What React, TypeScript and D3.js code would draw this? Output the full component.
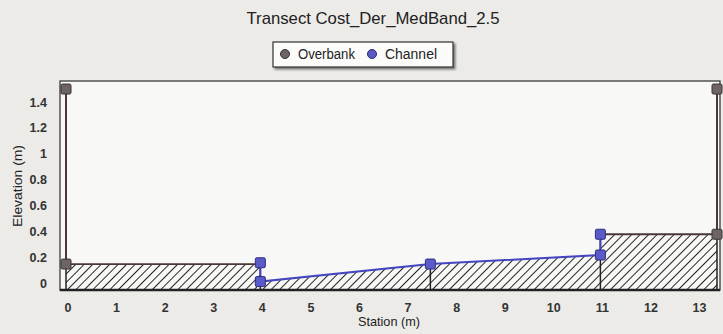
import React from "react";
import * as d3 from "d3";

const title = "Transect Cost_Der_MedBand_2.5";
const xTicks = [0, 1, 2, 3, 4, 5, 6, 7, 8, 9, 10, 11, 12, 13];
const yTicks = [0, 0.2, 0.4, 0.6, 0.8, 1, 1.2, 1.4];
const overbankLeftX = [0, 0, 4];
const overbankLeftY = [1.5, 0.15, 0.15];
const overbankRightX = [11, 13.4, 13.4];
const overbankRightY = [0.38, 0.38, 1.5];
const overbankMarkX = [0, 0, 13.4, 13.4];
const overbankMarkY = [1.5, 0.15, 0.38, 1.5];
const channelX = [4, 4, 7.5, 11, 11];
const channelY = [0.16, 0.015, 0.15, 0.22, 0.38];
const groundX = [0, 4, 4, 7.5, 11, 11, 13.4];
const groundY = [0.15, 0.15, 0.015, 0.15, 0.22, 0.38, 0.38];
const dropX = [0, 4, 7.5, 11, 13.4];
const dropY = [1.5, 0.15, 0.15, 0.38, 1.5];

const W = 723, H = 334;
const L = 60, R = 720, T = 81, B = 290;

export default function App() {
  const x = d3.scaleLinear().domain([0, 13.4]).range([66, 717]);
  const y = d3.scaleLinear().domain([0, 1.4]).range([283.5, 102]);
  const line = d3.line<[number, number]>().x(d => x(d[0])).y(d => y(d[1]));
  const area = d3.area<[number, number]>().x(d => x(d[0])).y0(B).y1(d => y(d[1]));
  const zip = (a: number[], b: number[]) => a.map((v, i) => [v, b[i]] as [number, number]);
  const ground = zip(groundX, groundY);
  const font = "'Liberation Sans', Arial, sans-serif";
  const sq = 10;
  return (
    <svg width={W} height={H} style={{ position: "fixed", left: 0, top: 0, background: "#ecebe8" }}>
      <defs>
        <pattern id="hatch" patternUnits="userSpaceOnUse" width={6} height={6} patternTransform="rotate(45)">
          <line x1={0} y1={0} x2={0} y2={6} stroke="#1a1a1a" strokeWidth={1.9} />
        </pattern>
        <filter id="sh" x="-10%" y="-20%" width="130%" height="170%">
          <feDropShadow dx={2} dy={2} stdDeviation={1} floodColor="#444" floodOpacity={0.7} />
        </filter>
      </defs>
      <rect x={0} y={0} width={W} height={H} fill="#ecebe8" />
      <text x={373} y={24} textAnchor="middle" fontFamily={font} fontSize={17} fill="#222"
        textLength={253} lengthAdjust="spacingAndGlyphs">{title}</text>
      {/* legend */}
      <g>
        <rect x={273} y={42} width={180} height={25} fill="#fbfbfa" stroke="#333" strokeWidth={1.2} filter="url(#sh)" />
        <circle cx={285} cy={54} r={4.5} fill="#6e6464" stroke="#333" strokeWidth={1} />
        <text x={298} y={59} fontFamily={font} fontSize={14} fill="#222" textLength={57} lengthAdjust="spacingAndGlyphs">Overbank</text>
        <circle cx={372} cy={54} r={4.5} fill="#5a5ac4" stroke="#2a2a70" strokeWidth={1} />
        <text x={385} y={59} fontFamily={font} fontSize={14} fill="#222" textLength={52} lengthAdjust="spacingAndGlyphs">Channel</text>
      </g>
      {/* plot area */}
      <rect x={L} y={T} width={R - L} height={B - T} fill="#f8f8f6" stroke="#3a3a3a" strokeWidth={1.3} />
      <path d={area(ground) || ""} fill="url(#hatch)" />
      {dropX.map((d, i) => (
        <line key={"d" + i} x1={x(d)} x2={x(d)} y1={y(dropY[i])} y2={B} stroke="#222" strokeWidth={1.5} />
      ))}
      <line x1={L} x2={R} y1={B} y2={B} stroke="#222" strokeWidth={2.5} />
      <path d={line(zip(overbankLeftX, overbankLeftY)) || ""} fill="none" stroke="#4a3838" strokeWidth={1.8} />
      <path d={line(zip(overbankRightX, overbankRightY)) || ""} fill="none" stroke="#4a3838" strokeWidth={1.8} />
      <path d={line(zip(channelX, channelY)) || ""} fill="none" stroke="#4545c0" strokeWidth={2} />
      {overbankMarkX.map((d, i) => (
        <rect key={"o" + i} x={x(d) - sq / 2} y={y(overbankMarkY[i]) - sq / 2} width={sq} height={sq} rx={1.5}
          fill="#6e6464" stroke="#3a3232" strokeWidth={1} />
      ))}
      {channelX.map((d, i) => (
        <rect key={"c" + i} x={x(d) - sq / 2} y={y(channelY[i]) - sq / 2} width={sq} height={sq} rx={1.5}
          fill="#5a5ac8" stroke="#2e2e80" strokeWidth={1} />
      ))}
      {/* y axis */}
      {yTicks.map(t => (
        <text key={"y" + t} x={47} y={y(t) + 4.5} textAnchor="end" fontFamily={font} fontSize={12.5} fontWeight="bold" fill="#333">{t}</text>
      ))}
      {xTicks.map(t => (
        <text key={"x" + t} x={x(t) + 2} y={312} textAnchor="middle" fontFamily={font} fontSize={12.5} fontWeight="bold" fill="#333">{t}</text>
      ))}
      <text x={389} y={326} textAnchor="middle" fontFamily={font} fontSize={13} fill="#222" textLength={62} lengthAdjust="spacingAndGlyphs">Station (m)</text>
      <text transform={`translate(22,186) rotate(-90)`} textAnchor="middle" fontFamily={font} fontSize={13.5} fill="#222" textLength={82} lengthAdjust="spacingAndGlyphs">Elevation (m)</text>
    </svg>
  );
}
